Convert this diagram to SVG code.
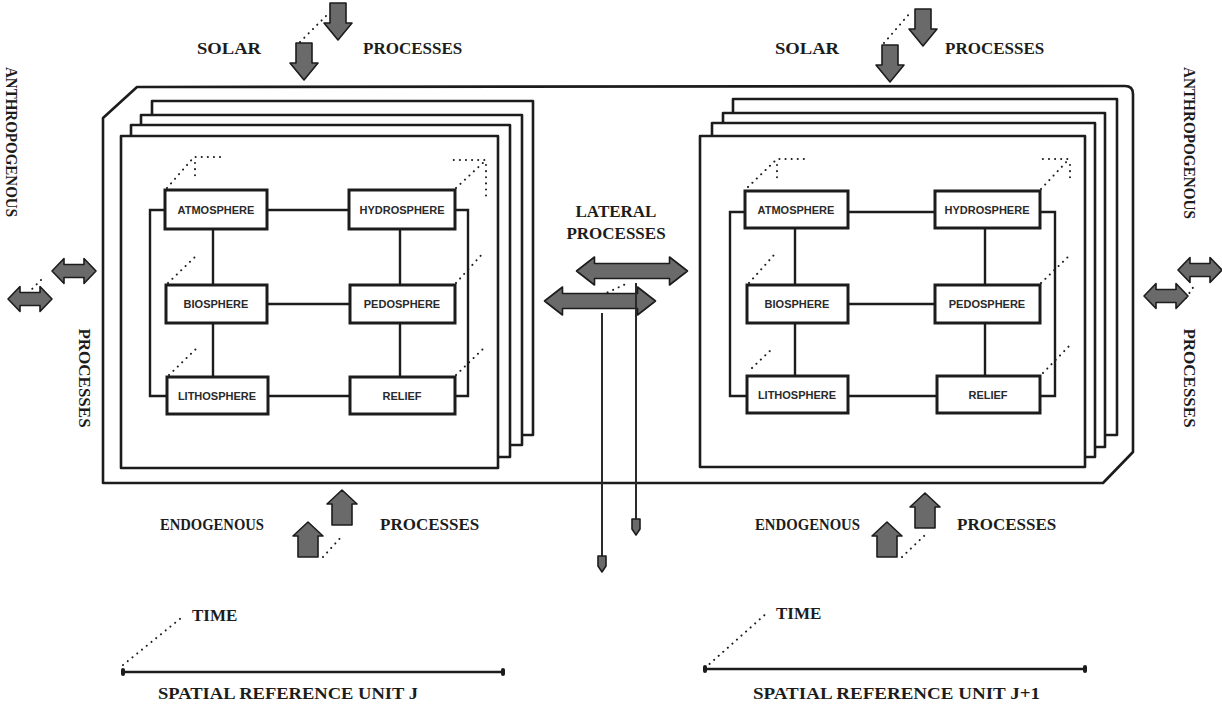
<svg xmlns="http://www.w3.org/2000/svg" xmlns:xlink="http://www.w3.org/1999/xlink" width="1222" height="704" viewBox="0 0 1222 704">
<style>
.frame{fill:#fff;stroke:#1c1c1c;stroke-width:2.6;stroke-linejoin:round}
.node rect{fill:#fff;stroke:#1c1c1c;stroke-width:3}
.node text{font-family:"Liberation Sans",Arial,sans-serif;font-weight:bold;font-size:11px;fill:#2a2a2a;text-anchor:middle}
.conn{fill:none;stroke:#1c1c1c;stroke-width:2.4}
.dot{fill:none;stroke:#1c1c1c;stroke-width:2;stroke-linecap:round;stroke-dasharray:0.1 6}
.arr{fill:#6a6a6a;stroke:#1c1c1c;stroke-width:1.6;stroke-linejoin:round}
.lbl{font-family:"Liberation Serif","Times New Roman",serif;font-weight:bold;font-size:17px;fill:#1c1c1c}
.thin{fill:none;stroke:#2a2a2a;stroke-width:2}
</style>
<defs>
<path id="dArrow" d="M-8,-37 H8 V-17 H14 L0,0 L-14,-17 H-8 Z"/>
<path id="uArrow" d="M0,0 L15,14 H10 V35 H-10 V14 H-15 Z"/>
<path id="dbl" d="M-22,0 L-10,-12.5 V-6.5 H10 V-12.5 L22,0 L10,12.5 V6.5 H-10 V12.5 Z"/>
<path id="dblL" d="M-55.5,0 L-37.5,-14 V-7.5 H37.5 V-14 L55.5,0 L37.5,14 V7.5 H-37.5 V14 Z"/>
<path id="tinyHead" d="M0,0 L-4,-6 V-16 H4 V-6 Z"/>
</defs>
<rect width="1222" height="704" fill="#fff"/>

<!-- outer slab -->
<g id="slab">
<path class="frame" d="M137,87 L1125,86 Q1133,86 1133,94 L1133,452 L1103,483 L103,483 L103,118 Z"/>
</g>

<!-- left stack of pages -->
<g id="unit-j-pages">
<rect class="frame" x="152" y="101" width="381" height="334"/>
<rect class="frame" x="141" y="115" width="381" height="330"/>
<rect class="frame" x="131" y="125" width="379" height="332"/>
<rect class="frame" x="121" y="136" width="377" height="332"/>
</g>

<!-- right stack of pages -->
<g id="unit-j1-pages">
<rect class="frame" x="733" y="99" width="384" height="336"/>
<rect class="frame" x="723" y="113" width="382" height="334"/>
<rect class="frame" x="712" y="123" width="383" height="334"/>
<rect class="frame" x="700" y="136" width="385" height="331"/>
</g>

<!-- connectors -->
<g id="connectors">
<!-- unit J -->
<line class="conn" x1="267" y1="210" x2="349" y2="210"/>
<line class="conn" x1="267" y1="304" x2="350" y2="304"/>
<line class="conn" x1="268" y1="396" x2="350" y2="396"/>
<line class="conn" x1="213" y1="229" x2="213" y2="285"/>
<line class="conn" x1="213" y1="323" x2="213" y2="377"/>
<line class="conn" x1="400" y1="229" x2="400" y2="285"/>
<line class="conn" x1="400" y1="323" x2="400" y2="377"/>
<path class="conn" d="M165,210 H150 V396 H167"/>
<path class="conn" d="M455,210 H468 V396 H455"/>
<!-- unit J+1 -->
<line class="conn" x1="848" y1="212" x2="935" y2="212"/>
<line class="conn" x1="848" y1="304" x2="935" y2="304"/>
<line class="conn" x1="848" y1="396" x2="937" y2="396"/>
<line class="conn" x1="795" y1="228" x2="795" y2="285"/>
<line class="conn" x1="795" y1="323" x2="795" y2="376"/>
<line class="conn" x1="985" y1="228" x2="985" y2="285"/>
<line class="conn" x1="985" y1="323" x2="985" y2="376"/>
<path class="conn" d="M745,212 H730 V396 H747"/>
<path class="conn" d="M1040,212 H1055 V396 H1040"/>
<!-- dotted depth lines unit J -->
<path class="dot" d="M167,188 L194,157 H225 M195,163 V181"/>
<path class="dot" d="M456,188 L486,160 H453 M486,165 V200"/>
<path class="dot" d="M168,283 L197,255"/>
<path class="dot" d="M456,283 L484,252"/>
<path class="dot" d="M169,375 L198,347"/>
<path class="dot" d="M456,375 L485,347"/>
<!-- dotted depth lines unit J+1 -->
<path class="dot" d="M748,187 L777,159 H806 M777,165 V183"/>
<path class="dot" d="M1041,189 L1069,159 H1042 M1070,165 V183"/>
<path class="dot" d="M749,283 L774,255"/>
<path class="dot" d="M1041,283 L1071,254"/>
<path class="dot" d="M752,368 L773,348"/>
<path class="dot" d="M1043,373 L1072,343"/>
</g>

<!-- nodes unit J -->
<g id="atmosphere-j" class="node"><rect x="165" y="190" width="102" height="39"/><text x="216" y="214">ATMOSPHERE</text></g>
<g id="hydrosphere-j" class="node"><rect x="349" y="190" width="106" height="39"/><text x="402" y="214">HYDROSPHERE</text></g>
<g id="biosphere-j" class="node"><rect x="166" y="285" width="101" height="38"/><text x="216" y="308">BIOSPHERE</text></g>
<g id="pedosphere-j" class="node"><rect x="350" y="285" width="105" height="38"/><text x="402" y="308">PEDOSPHERE</text></g>
<g id="lithosphere-j" class="node"><rect x="167" y="377" width="101" height="37"/><text x="217" y="400">LITHOSPHERE</text></g>
<g id="relief-j" class="node"><rect x="350" y="377" width="105" height="37"/><text x="402" y="400">RELIEF</text></g>

<!-- nodes unit J+1 -->
<g id="atmosphere-j1" class="node"><rect x="745" y="191" width="103" height="37"/><text x="796" y="214">ATMOSPHERE</text></g>
<g id="hydrosphere-j1" class="node"><rect x="935" y="191" width="105" height="37"/><text x="987" y="214">HYDROSPHERE</text></g>
<g id="biosphere-j1" class="node"><rect x="747" y="285" width="101" height="38"/><text x="797" y="308">BIOSPHERE</text></g>
<g id="pedosphere-j1" class="node"><rect x="935" y="285" width="105" height="38"/><text x="987" y="308">PEDOSPHERE</text></g>
<g id="lithosphere-j1" class="node"><rect x="747" y="376" width="101" height="37"/><text x="797" y="399">LITHOSPHERE</text></g>
<g id="relief-j1" class="node"><rect x="937" y="376" width="103" height="37"/><text x="988" y="399">RELIEF</text></g>

<!-- solar processes -->
<g id="solar-j">
<path class="dot" d="M300,42 L327,15"/>
<use href="#dArrow" class="arr" transform="translate(338,40)"/>
<use href="#dArrow" class="arr" transform="translate(304,80)"/>
<text class="lbl" x="197" y="54" textLength="64" lengthAdjust="spacingAndGlyphs">SOLAR</text>
<text class="lbl" x="363" y="54">PROCESSES</text>
</g>
<g id="solar-j1">
<path class="dot" d="M884,43 L910,13"/>
<use href="#dArrow" class="arr" transform="translate(923,46)"/>
<use href="#dArrow" class="arr" transform="translate(890,82)"/>
<text class="lbl" x="775" y="54" textLength="64" lengthAdjust="spacingAndGlyphs">SOLAR</text>
<text class="lbl" x="945" y="54">PROCESSES</text>
</g>

<!-- endogenous processes -->
<g id="endogenous-j">
<use href="#uArrow" class="arr" transform="translate(342,490)"/>
<use href="#uArrow" class="arr" transform="translate(308,522)"/>
<path class="dot" d="M323,557 L343,535"/>
<text class="lbl" x="160" y="530" textLength="104" lengthAdjust="spacingAndGlyphs">ENDOGENOUS</text>
<text class="lbl" x="380" y="530">PROCESSES</text>
</g>
<g id="endogenous-j1">
<use href="#uArrow" class="arr" transform="translate(925,493)"/>
<use href="#uArrow" class="arr" transform="translate(887,522)"/>
<path class="dot" d="M902,557 L925,535"/>
<text class="lbl" x="755" y="530" textLength="105" lengthAdjust="spacingAndGlyphs">ENDOGENOUS</text>
<text class="lbl" x="957" y="530">PROCESSES</text>
</g>

<!-- anthropogenous processes -->
<g id="anthropogenous-j">
<text class="lbl" transform="translate(6,67) rotate(90)" textLength="150" lengthAdjust="spacingAndGlyphs">ANTHROPOGENOUS</text>
<text class="lbl" text-anchor="middle" transform="translate(79,378) rotate(90)">PROCESSES</text>
<path class="dot" d="M28,293 L43,278"/>
<use href="#dbl" class="arr" transform="translate(74,271)"/>
<use href="#dbl" class="arr" transform="translate(30,299)"/>
</g>
<g id="anthropogenous-j1">
<text class="lbl" transform="translate(1184,67) rotate(90)" textLength="152" lengthAdjust="spacingAndGlyphs">ANTHROPOGENOUS</text>
<text class="lbl" text-anchor="middle" transform="translate(1184,378) rotate(90)">PROCESSES</text>
<path class="dot" d="M1186,298 L1196,283"/>
<use href="#dbl" class="arr" transform="translate(1200,270)"/>
<use href="#dbl" class="arr" transform="translate(1166,296)"/>
</g>

<!-- lateral processes -->
<g id="lateral">
<text class="lbl" x="616" y="217" text-anchor="middle">LATERAL</text>
<text class="lbl" x="616" y="239" text-anchor="middle">PROCESSES</text>
<use href="#dblL" class="arr" transform="translate(632,271)"/>
<path class="dot" d="M602,295 L628,283"/>
<use href="#dblL" class="arr" transform="translate(600,301)"/>
<line class="thin" x1="602" y1="313" x2="602" y2="558"/>
<line class="thin" x1="636" y1="283" x2="636" y2="522"/>
<use href="#tinyHead" class="arr" transform="translate(636,535)"/>
<use href="#tinyHead" class="arr" transform="translate(602,572)"/>
</g>

<!-- time axes -->
<g id="time-j">
<path class="dot" d="M123,665 L181,618"/>
<text class="lbl" x="192" y="621">TIME</text>
<line class="conn" x1="123" y1="672" x2="503" y2="672"/>
<rect x="121" y="668" width="4" height="8" rx="2" fill="#1c1c1c"/>
<rect x="501" y="668" width="4" height="8" rx="2" fill="#1c1c1c"/>
<text class="lbl" x="158" y="699" textLength="260" lengthAdjust="spacingAndGlyphs">SPATIAL REFERENCE UNIT J</text>
</g>
<g id="time-j1">
<path class="dot" d="M705,668 L768,612"/>
<text class="lbl" x="776" y="619">TIME</text>
<line class="conn" x1="705" y1="669" x2="1085" y2="669"/>
<rect x="703" y="665" width="4" height="8" rx="2" fill="#1c1c1c"/>
<rect x="1083" y="665" width="4" height="8" rx="2" fill="#1c1c1c"/>
<text class="lbl" x="753" y="699" textLength="287" lengthAdjust="spacingAndGlyphs">SPATIAL REFERENCE UNIT J+1</text>
</g>
</svg>
